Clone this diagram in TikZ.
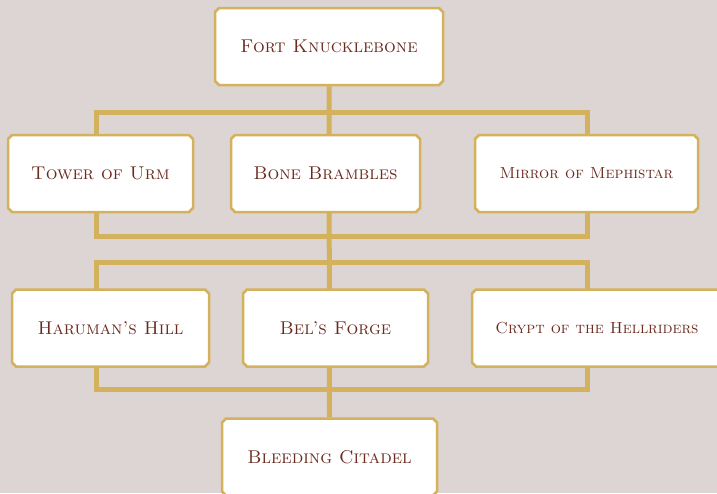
\documentclass[tikz,border=0pt]{standalone}
\usepackage{tikz}
\usetikzlibrary{shapes.misc,backgrounds}

\definecolor{parchment}{HTML}{DCD5D4}
\definecolor{gold}{HTML}{D4B15C}
\definecolor{inkred}{HTML}{6B2A1F}

\tikzset{
  place/.style={chamfered rectangle, chamfered rectangle xsep=2pt,
    chamfered rectangle ysep=2pt, draw=gold, line width=2.5pt, fill=white,
    text=inkred, font=\fontsize{18.5}{20}\selectfont\scshape,
    minimum height=77pt, inner sep=0pt},
  longname/.style={font=\fontsize{16}{18}\selectfont\scshape},
  link/.style={draw=gold, line width=5pt}
}

\begin{document}
\begin{tikzpicture}[x=1pt,y=-1pt]
      \clip (0,0) rectangle (717,493);

      % top
      \node[place, minimum width=228pt] (fort) at (329,46.5) {Fort Knucklebone};

      % first row
      \node[place, minimum width=185pt] (urm) at (100.5,173.5) {Tower of Urm};
      \node[place, minimum width=189pt] (brambles) at (325.5,173.5) {Bone Brambles};
      \node[place, longname, minimum width=223pt] (mirror) at (586.5,173.5) {Mirror of Mephistar};

      % second row
      \node[place, minimum width=197pt] (hill) at (110.5,328) {Haruman's Hill};
      \node[place, minimum width=185pt] (forge) at (335.5,328) {Bel's Forge};
      \node[place, longname, minimum width=250pt] (crypt) at (597,328) {Crypt of the Hellriders};

      % bottom
      \node[place, minimum width=215pt] (citadel) at (329.5,457) {Bleeding Citadel};

      \coordinate (upA) at (96,112);
      \coordinate (upB) at (587,236);
      \coordinate (loA) at (96,262);
      \coordinate (loB) at (587,389);

      \begin{scope}[on background layer]
        \fill[parchment] (0,0) rectangle (717,493);
        \draw[link] (fort.south) -- (citadel.north);
        \draw[link] (upA) rectangle (upB);
        \draw[link] (loA) rectangle (loB);
      \end{scope}
    \end{tikzpicture}
\end{document}
